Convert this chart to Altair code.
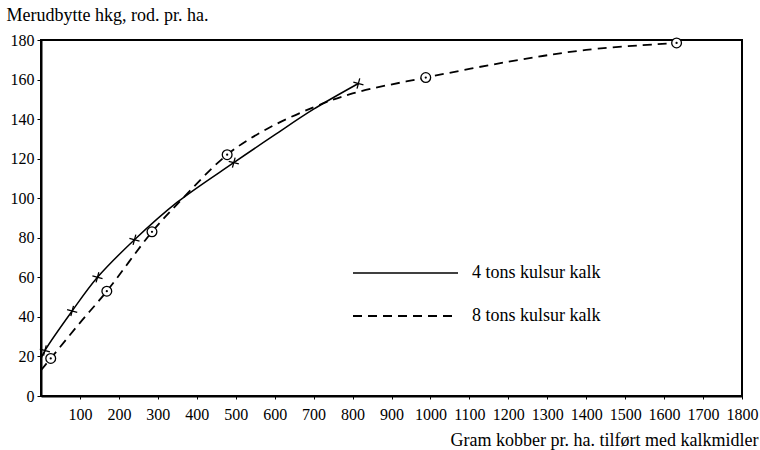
import altair as alt
import pandas as pd

# Curve traces (x: gram kobber pr. ha., y: merudbytte hkg)
curve4_x = [0, 10, 80, 145, 240, 350, 495, 600, 700, 815]
curve4_y = [19, 23, 43, 60, 79, 98, 118, 132, 145, 158]
curve8_x = [0, 25, 100, 169, 285, 350, 478, 580, 700, 800, 988, 1200, 1400, 1632]
curve8_y = [13, 19, 37, 53, 83, 97, 122, 135, 146, 153, 161, 169, 175, 178.5]

# Observed points
pts4_x = [10, 80, 145, 240, 495, 815]
pts4_y = [23, 43, 60, 79, 118, 158]
pts8_x = [25, 169, 285, 478, 988, 1632]
pts8_y = [19, 53, 83, 122, 161, 178.5]

series_names = ["4 tons kulsur kalk", "8 tons kulsur kalk"]
x_ticks = list(range(100, 1801, 100))
y_ticks = list(range(0, 181, 20))

c4 = pd.DataFrame({"x": curve4_x, "y": curve4_y})
c8 = pd.DataFrame({"x": curve8_x, "y": curve8_y})
p4 = pd.DataFrame({"x": pts4_x, "y": pts4_y})
p8 = pd.DataFrame({"x": pts8_x, "y": pts8_y})
one = pd.DataFrame({"k": [0]})

FONT = "Liberation Serif"
FS = 16
TFS = 18
DASH = [9, 6]

xs = alt.Scale(domain=[0, 1800], nice=False, zero=True)
ys = alt.Scale(domain=[0, 180], nice=False)

xenc = alt.X("x:Q", scale=xs, axis=alt.Axis(
    values=x_ticks, format="d", labelOverlap=False, labelFlush=False,
    title="Gram kobber pr. ha. tilført med kalkmidler",
    grid=False, domainColor="black", domainWidth=2, tickColor="black", tickSize=3,
    labelFont=FONT, labelFontSize=FS, labelColor="black", labelPadding=7,
    titleFont=FONT, titleFontSize=TFS, titleFontWeight="normal", titleColor="black",
    titleAnchor="end", titleAlign="right", titleBaseline="alphabetic",
    titleX=717, titleY=49))
yenc = alt.Y("y:Q", scale=ys, axis=alt.Axis(
    values=y_ticks, format="d", labelOverlap=False, labelFlush=False,
    title="Merudbytte hkg, rod. pr. ha.",
    grid=False, domainColor="black", domainWidth=2, tickColor="black", tickSize=4,
    labelFont=FONT, labelFontSize=FS, labelColor="black", labelPadding=3,
    titleFont=FONT, titleFontSize=TFS, titleFontWeight="normal", titleColor="black",
    titleAngle=0, titleAlign="left", titleBaseline="alphabetic",
    titleX=-35, titleY=-20))

line4 = alt.Chart(c4).mark_line(color="black", strokeWidth=1.5, interpolate="catmull-rom").encode(x=xenc, y=yenc)
line8 = alt.Chart(c8).mark_line(color="black", strokeWidth=1.8, strokeDash=DASH, interpolate="catmull-rom").encode(x=xenc, y=yenc)

cross = alt.Chart(p4).mark_point(shape="M-1,0L1,0M0,-1L0,1", size=110, stroke="black",
                                 strokeWidth=1.3, filled=False, angle=15, opacity=1).encode(x=xenc, y=yenc)
circ = alt.Chart(p8).mark_point(shape="circle", size=95, stroke="black", strokeWidth=1.3,
                                filled=False, fill="white", fillOpacity=1, opacity=1).encode(x=xenc, y=yenc)
dot = alt.Chart(p8).mark_point(shape="circle", size=5, color="black", filled=True, opacity=1).encode(x=xenc, y=yenc)

leg1 = alt.Chart(one).mark_rule(color="black", strokeWidth=1.5).encode(
    x=alt.value(312), x2=alt.value(417), y=alt.value(233))
leg2 = alt.Chart(one).mark_rule(color="black", strokeWidth=1.8, strokeDash=DASH).encode(
    x=alt.value(312), x2=alt.value(417), y=alt.value(276))
legt1 = alt.Chart(one).mark_text(font=FONT, fontSize=TFS, align="left", baseline="middle", color="black").encode(
    x=alt.value(431), y=alt.value(233), text=alt.value(series_names[0]))
legt2 = alt.Chart(one).mark_text(font=FONT, fontSize=TFS, align="left", baseline="middle", color="black").encode(
    x=alt.value(431), y=alt.value(276), text=alt.value(series_names[1]))

chart = alt.layer(line4, line8, cross, circ, dot, leg1, leg2, legt1, legt2).properties(
    width=701, height=356,
    padding={"left": 41, "top": 40, "right": 18, "bottom": 54},
    autosize="none",
    background="white",
).configure_view(stroke="black", strokeWidth=2
).configure_axis(labelOverlap=False, labelFlush=False)

chart.save("out.html", embed_options={"renderer": "svg", "actions": False})
